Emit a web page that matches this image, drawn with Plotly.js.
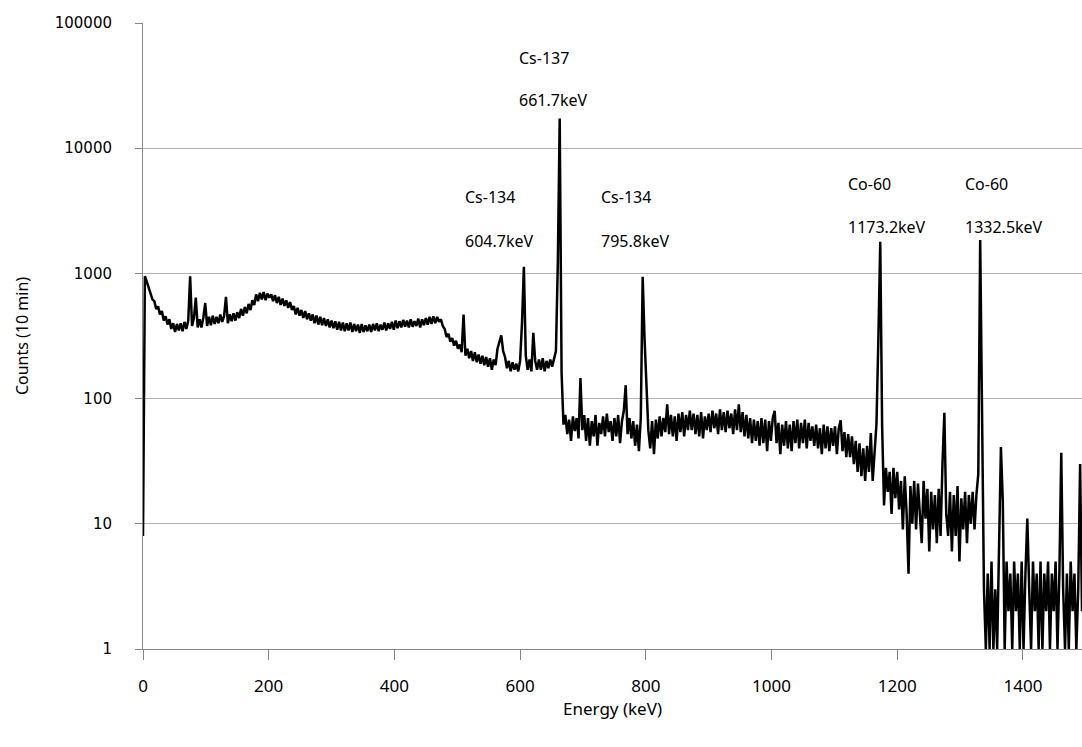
<!DOCTYPE html>
<html>
<head>
<meta charset="utf-8">
<script src="https://cdn.plot.ly/plotly-3.0.1.min.js"></script>
<style>html,body{margin:0;padding:0;background:#fff;}#chart{width:1082px;height:747px;}</style>
</head>
<body>
<div id="chart"></div>
<script>
// Channel width of the spectrum (keV per point)
const channelWidthKeV = 3;

// Counts per 3 keV channel (E = 0 .. 477 keV)
const countsLow = [
  8, 950, 860, 760, 700, 620, 600, 520, 545, 470,
  500, 420, 455, 390, 430, 360, 400, 340, 395, 350,
  400, 345, 410, 360, 420, 950, 380, 440, 640, 370,
  430, 370, 445, 580, 380, 450, 385, 460, 395, 450,
  400, 470, 410, 455, 650, 400, 470, 415, 480, 420,
  490, 440, 520, 460, 540, 480, 570, 510, 610, 560,
  680, 600, 700, 620, 710, 610, 690, 640, 680, 600,
  670, 580, 650, 560, 630, 550, 610, 530, 590, 510,
  550, 470, 530, 460, 510, 440, 500, 430, 480, 420,
  470, 400, 460, 390, 450, 385, 440, 380, 430, 370,
  420, 365, 415, 355, 410, 350, 405, 345, 400, 350,
  405, 340, 395, 345, 390, 335, 395, 340, 385, 345,
  390, 340, 395, 350, 400, 345, 390, 355, 405, 350,
  400, 360, 410, 355, 420, 365, 415, 370, 425, 375,
  420, 370, 430, 375, 415, 380, 435, 370, 430, 385,
  440, 390, 450, 395, 455, 400, 450, 410, 430, 380
];
// E = 480 .. 657 keV (Compton edge of Cs-137, Cs-134 604.7 keV)
const countsCompton = [
  360, 310, 330, 285, 305, 265, 290, 250, 270, 235,
  470, 220, 250, 210, 240, 200, 235, 195, 225, 190,
  220, 185, 215, 180, 210, 170, 205, 185, 250, 290,
  320, 240, 215, 175, 200, 165, 195, 170, 190, 165,
  200, 400, 1130, 220, 170, 205, 165, 335, 200, 170,
  205, 170, 210, 165, 200, 175, 205, 180, 210, 240
];
// E = 660 .. 1167 keV (Cs-137 661.7 keV, Cs-134 795.8 keV)
const countsMid = [
  1200, 17300, 160, 62, 74, 52, 68, 46, 72, 55,
  70, 48, 146, 56, 74, 46, 70, 42, 66, 50,
  74, 42, 64, 52, 72, 50, 76, 54, 66, 46,
  70, 50, 74, 44, 66, 80, 128, 52, 70, 48,
  66, 42, 62, 38, 70, 940, 300, 146, 56, 40,
  66, 36, 68, 48, 72, 50, 70, 54, 90, 52,
  74, 50, 72, 46, 76, 54, 78, 50, 74, 56,
  80, 56, 76, 52, 74, 50, 78, 48, 72, 56,
  76, 54, 80, 58, 76, 52, 82, 56, 78, 54,
  80, 58, 76, 52, 82, 56, 90, 54, 78, 50,
  74, 48, 70, 44, 68, 46, 66, 42, 70, 44,
  68, 38, 66, 46, 70, 80, 44, 64, 36, 62,
  42, 66, 40, 62, 38, 66, 44, 68, 40, 64,
  44, 68, 40, 64, 46, 60, 42, 62, 40, 58,
  36, 62, 40, 60, 38, 58, 42, 60, 36, 58,
  67, 38, 54, 34, 52, 34, 50, 30, 46, 26,
  44, 24, 40, 22, 42, 26, 53, 22, 40, 63
];
// E = 1170 .. 1494 keV (Co-60 1173.2 and 1332.5 keV)
const countsHigh = [
  300, 1790, 60, 14, 28, 18, 26, 12, 28, 16,
  26, 13, 22, 9, 24, 12, 4, 20, 10, 22,
  9, 21, 12, 7, 22, 11, 19, 6, 18, 9,
  17, 7, 19, 8, 30, 77, 12, 8, 18, 6,
  17, 8, 20, 5, 16, 9, 18, 7, 17, 10,
  18, 9, 17, 25, 1850, 60, 3, 1, 4, 1,
  5, 1, 3, 1, 10, 41, 15, 1, 5, 2,
  4, 1, 5, 2, 4, 1, 5, 1, 4, 11,
  3, 1, 5, 2, 4, 1, 5, 1, 4, 2,
  5, 1, 4, 2, 5, 1, 4, 37, 3, 1,
  4, 1, 5, 2, 4, 1, 3, 30, 2
];

const yTickVals = [1, 10, 100, 1000, 10000, 100000];
const yTickText = ['1', '10', '100', '1000', '10000', '100000'];
const xTickVals = [0, 200, 400, 600, 800, 1000, 1200, 1400];

const peakLabels = [
  {nuclide: 'Cs-137', energy: '661.7keV'},
  {nuclide: 'Cs-134', energy: '604.7keV'},
  {nuclide: 'Cs-134', energy: '795.8keV'},
  {nuclide: 'Co-60', energy: '1173.2keV'},
  {nuclide: 'Co-60', energy: '1332.5keV'}
];
// label placement (paper coords), style only
const labelPos = [
  {x: 0.398, y1: 0.944, y2: 0.877},
  {x: 0.341, y1: 0.722, y2: 0.652},
  {x: 0.4856, y1: 0.722, y2: 0.652},
  {x: 0.7487, y1: 0.7428, y2: 0.674},
  {x: 0.8733, y1: 0.7428, y2: 0.674}
];

const counts = countsLow.concat(countsCompton, countsMid, countsHigh);
const energy = counts.map((_, i) => i * channelWidthKeV);

const annotations = [];
peakLabels.forEach((p, i) => {
  const pos = labelPos[i];
  [[p.nuclide, pos.y1], [p.energy, pos.y2]].forEach(([t, y]) => {
    annotations.push({
      text: t, xref: 'paper', yref: 'paper', x: pos.x, y: y,
      xanchor: 'left', yanchor: 'middle', showarrow: false,
      font: {family: 'Noto Sans, sans-serif', size: 16, color: '#000'}
    });
  });
});

const trace = {
  x: energy, y: counts, type: 'scatter', mode: 'lines',
  line: {color: '#000', width: 2.5}, hoverinfo: 'skip'
};

const axisFont = {family: 'DejaVu Sans, sans-serif', size: 15, color: '#000'};

const layout = {
  width: 1082, height: 747,
  margin: {l: 143, r: 0, t: 23, b: 98},
  paper_bgcolor: '#fff', plot_bgcolor: '#fff',
  showlegend: false,
  xaxis: {
    range: [0, 1494], tickvals: xTickVals, ticks: 'outside', ticklen: 10,
    tickcolor: '#868686', tickwidth: 1, showline: true, linecolor: '#868686', linewidth: 1,
    showgrid: false, zeroline: false,
    tickfont: {family: 'Noto Sans, sans-serif', size: 17, color: '#000'},
    ticklabelstandoff: 12,
    title: {text: 'Energy (keV)', font: {family: 'Noto Sans, sans-serif', size: 17, color: '#000'}, standoff: 0}
  },
  yaxis: {
    type: 'log', range: [0, 5], tickvals: yTickVals, ticktext: yTickText,
    ticks: 'outside', ticklen: 7, tickcolor: '#868686', tickwidth: 1,
    showline: true, linecolor: '#868686', linewidth: 1,
    showgrid: true, gridcolor: '#b3b3b3', gridwidth: 1, zeroline: false,
    tickfont: axisFont, ticklabelstandoff: 20,
    title: {text: 'Counts (10 min)', font: {family: 'Noto Sans, sans-serif', size: 16, color: '#000'}, standoff: 22}
  },
  annotations: annotations
};

Plotly.newPlot('chart', [trace], layout, {displayModeBar: false, staticPlot: true});
</script>
</body>
</html>
